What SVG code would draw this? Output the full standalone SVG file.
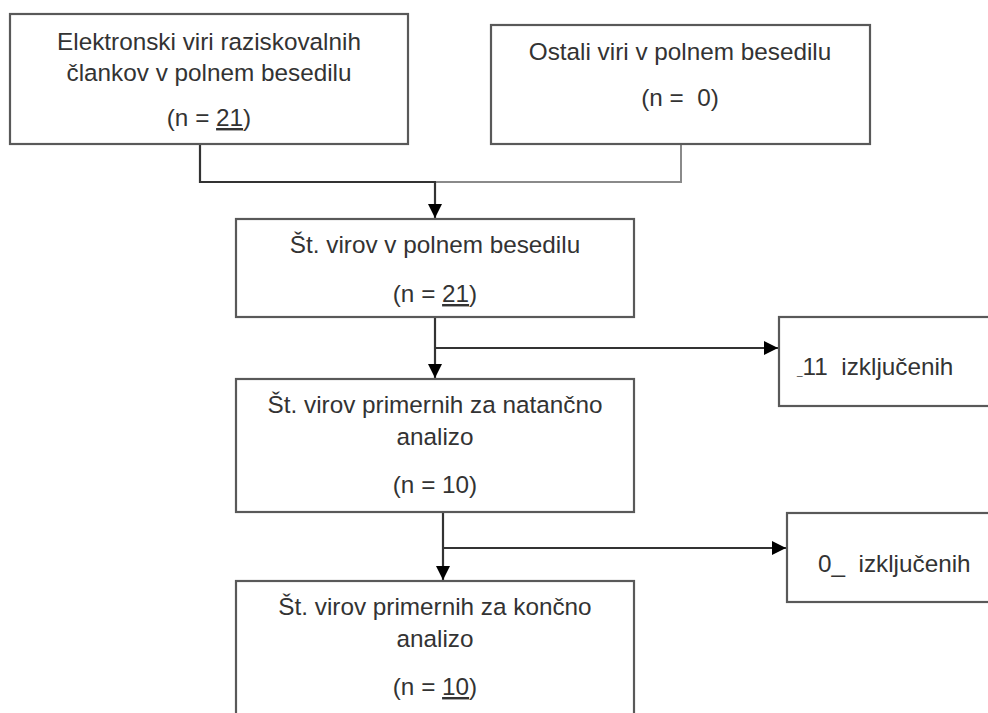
<svg xmlns="http://www.w3.org/2000/svg" width="988" height="713" viewBox="0 0 988 713">
<style>
.box{fill:#fff;stroke:#595959;stroke-width:2.2}
.t{font-family:"Liberation Sans",Arial,sans-serif;font-size:24.3px;fill:#333;text-anchor:middle}
.ts{font-family:"Liberation Sans",Arial,sans-serif;font-size:24.3px;fill:#333}
.u{text-decoration:underline}
.c{fill:none;stroke:#333;stroke-width:2.2}
.cl{fill:none;stroke:#8a8a8a;stroke-width:2}
</style>
<defs>
<marker id="ah" viewBox="0 0 10 10" refX="10" refY="5" markerWidth="6.5" markerHeight="6.5" orient="auto" markerUnits="strokeWidth">
<path d="M0,0 L10,5 L0,10 Z" fill="#000"/>
</marker>
</defs>
<rect width="988" height="713" fill="#fff"/>
<g id="connectors">
<polyline class="c" points="200,144 200,182 436,182"/>
<polyline class="cl" points="436,182 681,182 681,144"/>
<line class="c" x1="435" y1="182" x2="435" y2="218" marker-end="url(#ah)"/>
<line class="c" x1="435" y1="317" x2="435" y2="378" marker-end="url(#ah)"/>
<line class="c" x1="435" y1="348" x2="778" y2="348" marker-end="url(#ah)"/>
<line class="c" x1="443" y1="512" x2="443" y2="580" marker-end="url(#ah)"/>
<line class="c" x1="443" y1="548" x2="786" y2="548" marker-end="url(#ah)"/>
</g>
<g id="n1">
<rect class="box" x="10" y="14" width="398" height="130"/>
<text class="t" x="209" y="50">Elektronski viri raziskovalnih</text>
<text class="t" x="209" y="81">člankov v polnem besedilu</text>
<text class="t" x="209" y="126">(n = <tspan class="u">21</tspan>)</text>
</g>
<g id="n2">
<rect class="box" x="491" y="25" width="379" height="119"/>
<text class="t" x="680" y="60">Ostali viri v polnem besedilu</text>
<text class="t" x="680" y="106" xml:space="preserve">(n =  0)</text>
</g>
<g id="n3">
<rect class="box" x="236" y="219" width="398" height="98"/>
<text class="t" x="435" y="253">Št. virov v polnem besedilu</text>
<text class="t" x="435" y="302">(n = <tspan class="u">21</tspan>)</text>
</g>
<g id="n4">
<rect class="box" x="779" y="317" width="220" height="89"/>
<text class="ts" x="797" y="375" xml:space="preserve"><tspan font-size="10">_</tspan>11  izključenih</text>
</g>
<g id="n5">
<rect class="box" x="236" y="379" width="398" height="133"/>
<text class="t" x="435" y="413">Št. virov primernih za natančno</text>
<text class="t" x="435" y="445">analizo</text>
<text class="t" x="435" y="493">(n = 10)</text>
</g>
<g id="n6">
<rect class="box" x="787" y="513" width="220" height="89"/>
<text class="ts" x="818" y="572" xml:space="preserve">0_  izključenih</text>
</g>
<g id="n7">
<rect class="box" x="236" y="581" width="398" height="150"/>
<text class="t" x="435" y="615">Št. virov primernih za končno</text>
<text class="t" x="435" y="647">analizo</text>
<text class="t" x="435" y="695">(n = <tspan class="u">10</tspan>)</text>
</g>
</svg>
